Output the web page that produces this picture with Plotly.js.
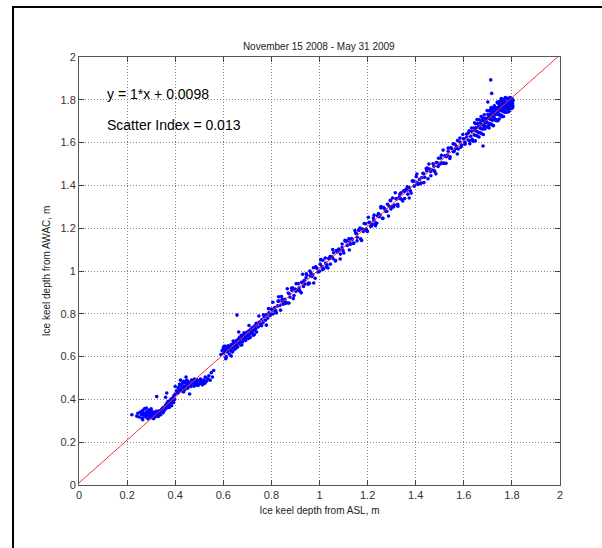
<!DOCTYPE html>
<html>
<head>
<meta charset="utf-8">
<script src="https://cdn.plot.ly/plotly-3.0.1.min.js"></script>
<style>
html,body{margin:0;padding:0;background:#fff;overflow:hidden;}
#chart{width:602px;height:548px;}
#frame{position:absolute;left:12px;top:6px;width:800px;height:800px;border-left:2px solid #000;border-top:2px solid #000;pointer-events:none;}
</style>
</head>
<body>
<div id="chart"></div>
<div id="frame"></div>
<script>
// Ice keel depth from ASL (x, m) and from AWAC (y, m)
var aslLow = [0.22,0.24,0.245,0.25,0.255,0.26,0.262,0.265,0.268,0.27,0.272,0.275,0.278,0.28,0.282,0.285,0.287,0.29,0.292,0.295,0.297,0.30,0.302,0.305,0.307,0.31,0.312,0.315,0.317,0.32,0.322,0.325,0.327,0.33,0.332,0.335,0.338,0.34,0.343,0.323,0.28,0.265,0.30,0.31,0.35,
0.345,0.35,0.355,0.36,0.362,0.365,0.368,0.37,0.372,0.375,0.378,0.38,0.383,0.385,0.388,0.39,0.393,0.395,0.398,0.365,0.40,0.36,
0.40,0.405,0.41,0.412,0.415,0.418,0.42,0.422,0.425,0.428,0.43,0.432,0.435,0.438,0.44,0.442,0.445,0.448,0.45,0.452,0.455,0.458,0.46,0.462,0.465,0.468,0.47,0.475,0.478,0.48,0.483,0.485,0.488,0.49,0.493,0.495,0.498,0.50,0.503,0.505,0.508,0.51,0.513,0.515,0.52,0.523,0.525,0.53,0.535,0.54,0.545,0.55,0.555,0.56,0.445,0.435];
var awacLow = [0.328,0.322,0.335,0.318,0.341,0.329,0.312,0.348,0.335,0.322,0.356,0.330,0.318,0.342,0.327,0.335,0.309,0.350,0.322,0.338,0.328,0.315,0.345,0.332,0.321,0.340,0.328,0.335,0.318,0.344,0.331,0.326,0.338,0.320,0.347,0.333,0.342,0.328,0.352,0.413,0.36,0.305,0.356,0.31,0.338,
0.355,0.362,0.348,0.372,0.358,0.381,0.366,0.39,0.375,0.362,0.395,0.382,0.402,0.37,0.392,0.408,0.385,0.418,0.40,0.43,0.46,0.41,
0.425,0.44,0.43,0.455,0.438,0.47,0.448,0.49,0.462,0.44,0.475,0.455,0.485,0.462,0.445,0.478,0.46,0.49,0.47,0.452,0.482,0.465,0.425,0.474,0.46,0.49,0.472,0.48,0.462,0.495,0.475,0.485,0.468,0.492,0.478,0.465,0.487,0.472,0.482,0.495,0.475,0.488,0.468,0.48,0.492,0.475,0.505,0.485,0.498,0.51,0.49,0.525,0.505,0.535,0.505,0.435];

var aslMid = [0.59,0.595,0.60,0.602,0.605,0.608,0.61,0.612,0.615,0.618,0.62,0.622,0.625,0.628,0.63,0.632,0.635,0.638,0.64,0.642,0.645,0.648,0.65,0.652,0.655,0.658,0.66,0.663,0.665,0.668,0.67,0.672,0.675,0.678,0.68,0.683,0.685,0.688,0.69,0.693,0.695,0.698,0.70,0.702,0.705,0.708,0.71,0.712,0.715,0.718,0.72,0.722,0.725,0.728,0.73,0.733,0.735,0.738,0.74,0.745,0.75,0.755,0.76,0.765,0.77,0.775,0.78,0.785,0.79,0.795,0.657,0.61,
0.800,0.807,0.814,0.821,0.828,0.835,0.842,0.849,0.856,0.863,0.870,0.877,0.884,0.891,0.898,0.905,0.912,0.919,0.926,0.933,
0.940,0.947,0.954,0.961,0.968,0.975,0.982,0.989,0.996,1.003,1.010,1.017,1.024,1.031,1.038,1.045,1.052,1.059,1.066,1.073,
0.804,0.818,0.832,0.846,0.860,0.874,0.888,0.902,0.916,0.930,0.944,0.958,0.972,0.986,1.000,1.014,1.028,1.042,1.056,1.070,
0.83,0.93,0.96];
var awacMid = [0.61,0.628,0.64,0.615,0.632,0.648,0.625,0.60,0.638,0.622,0.65,0.635,0.612,0.642,0.628,0.655,0.64,0.622,0.66,0.645,0.632,0.668,0.652,0.638,0.675,0.66,0.645,0.682,0.665,0.69,0.672,0.655,0.70,0.685,0.668,0.695,0.68,0.705,0.69,0.675,0.71,0.695,0.715,0.70,0.685,0.722,0.705,0.69,0.728,0.712,0.735,0.718,0.70,0.74,0.725,0.745,0.73,0.715,0.752,0.738,0.762,0.75,0.772,0.758,0.785,0.77,0.795,0.78,0.805,0.792,0.794,0.59,
0.822,0.799,0.829,0.804,0.859,0.839,0.881,0.845,0.868,0.851,0.897,0.878,0.919,0.871,0.916,0.912,0.941,0.905,0.947,0.928,
0.939,0.981,0.944,0.978,0.974,1.015,0.966,1.013,0.998,1.032,1.021,1.010,1.061,1.028,1.058,1.032,1.066,1.085,1.047,1.092,
0.817,0.815,0.860,0.855,0.849,0.894,0.921,0.905,0.910,0.946,0.968,0.943,0.982,1.016,0.999,1.050,1.019,1.057,1.058,1.095,
0.88,0.985,1.0];

var aslHigh = [1.080,1.087,1.094,1.101,1.108,1.115,1.122,1.129,1.136,1.143,1.150,1.157,1.164,1.171,1.178,1.185,1.192,1.199,1.206,1.213,
1.220,1.227,1.234,1.241,1.248,1.255,1.262,1.269,1.276,1.283,1.290,1.297,1.304,1.311,1.318,1.325,1.332,1.339,1.346,1.353,
1.360,1.367,1.374,1.381,1.388,1.395,1.402,1.409,1.416,1.423,1.430,1.437,1.444,1.451,1.458,1.465,1.472,1.479,1.486,1.493,
1.500,1.507,1.514,1.521,1.528,1.535,1.542,1.549,1.556,1.563,1.570,1.577,1.584,1.591,1.598,1.605,1.612,1.619,1.626,1.633,
1.084,1.098,1.112,1.126,1.140,1.154,1.168,1.182,1.196,1.210,1.224,1.238,1.252,1.266,1.280,1.294,1.308,1.322,1.336,1.350,
1.364,1.378,1.392,1.406,1.420,1.434,1.448,1.462,1.476,1.490,1.504,1.518,1.532,1.546,1.560,1.574,1.588,1.602];
var awacHigh = [1.102,1.079,1.109,1.084,1.139,1.119,1.150,1.125,1.148,1.131,1.177,1.158,1.190,1.151,1.196,1.192,1.221,1.185,1.227,1.208,
1.219,1.261,1.224,1.258,1.254,1.295,1.246,1.293,1.278,1.312,1.301,1.290,1.341,1.308,1.338,1.312,1.346,1.365,1.327,1.372,
1.382,1.359,1.389,1.364,1.419,1.399,1.441,1.405,1.428,1.411,1.457,1.438,1.479,1.431,1.476,1.472,1.501,1.465,1.507,1.488,
1.499,1.541,1.504,1.538,1.534,1.575,1.526,1.573,1.558,1.592,1.581,1.570,1.621,1.588,1.618,1.592,1.626,1.645,1.607,1.652,
1.097,1.095,1.140,1.135,1.129,1.174,1.201,1.185,1.190,1.226,1.248,1.223,1.262,1.296,1.279,1.330,1.299,1.337,1.338,1.375,
1.377,1.375,1.420,1.415,1.409,1.454,1.481,1.465,1.470,1.506,1.528,1.503,1.542,1.576,1.559,1.610,1.579,1.617];

// extra, more widely scattered readings along the band
var aslBand = [0.603,0.611,0.624,0.633,0.641,0.656,0.664,0.677,0.686,0.694,0.707,0.716,0.729,0.737,0.748,0.759,0.767,0.779,0.788,0.797,0.806,0.817,0.826,0.838,0.845,
0.857,0.866,0.873,0.885,0.894,0.903,0.915,0.924,0.936,0.945,0.953,0.964,0.976,0.984,0.993,1.005,1.013,1.026,1.035,1.044,1.055,1.067,1.075,1.086,1.094,
1.106,1.115,1.124,1.133,1.147,1.156,1.163,1.175,1.186,1.194,1.203,1.217,1.226,1.233,1.245,1.256,1.264,1.273,1.287,1.296,1.303,1.315,1.326,1.334,1.343,
1.354,1.365,1.373,1.386,1.394,1.405,1.413,1.426,1.434,1.446,1.455,1.463,1.476,1.484,1.495,1.506,1.514,1.526,1.535,1.543,1.556,1.565,1.573,1.584,1.596];
var awacBand = [0.648,0.593,0.638,0.603,0.673,0.654,0.715,0.654,0.711,0.685,0.745,0.722,0.703,0.756,0.790,0.744,0.795,0.747,0.824,0.799,0.854,0.811,0.837,0.817,0.868,
0.855,0.917,0.850,0.910,0.885,0.941,0.921,0.898,0.955,0.987,0.938,0.992,0.944,1.020,0.995,1.053,1.007,1.037,1.014,1.067,1.100,1.049,1.089,1.056,1.126,
1.144,1.121,1.098,1.152,1.189,1.141,1.191,1.143,1.222,1.196,1.251,1.211,1.237,1.212,1.268,1.301,1.246,1.287,1.257,1.328,1.301,1.366,1.303,1.359,1.334,
1.339,1.393,1.341,1.422,1.396,1.453,1.407,1.437,1.413,1.469,1.500,1.445,1.490,1.454,1.527,1.504,1.565,1.503,1.560,1.534,1.594,1.571,1.547,1.603,1.638];

var aslTop = [1.605,1.612,1.618,1.622,1.628,1.632,1.625,1.635,
1.640,1.642,1.643,1.645,1.646,1.648,1.649,1.651,1.652,1.654,1.655,1.657,1.658,1.660,1.661,1.663,1.664,1.666,1.667,1.669,1.670,1.672,1.673,1.675,1.676,1.678,1.679,1.681,1.682,1.684,1.685,1.687,1.688,1.690,1.691,
1.693,1.694,1.696,1.697,1.699,1.700,1.702,1.703,1.705,1.706,1.708,1.709,1.711,1.712,1.714,1.715,1.717,1.718,1.720,1.721,1.723,1.724,1.726,1.727,1.729,1.730,1.732,1.733,1.735,1.736,1.738,1.739,1.741,1.742,1.744,
1.745,1.747,1.748,1.750,1.751,1.753,1.754,1.756,1.757,1.759,1.760,1.762,1.763,1.765,1.766,1.768,1.769,1.771,1.772,1.774,1.775,1.777,1.778,1.780,1.781,1.783,1.784,1.786,1.787,1.789,1.790,1.792,1.793,1.795,1.796,1.798,1.799,1.801,1.802,1.804,1.805,
1.701,1.704,1.707,1.710,1.713,1.716,1.719,1.722,1.725,1.728,1.731,1.734,1.737,1.740,1.743,1.746,1.749,1.752,1.755,1.758,1.761,1.764,1.767,1.770,1.773,1.776,1.779,1.782,1.785,1.788,1.791,1.794,1.797,1.800,1.803,
1.712,1.716,1.680,1.700];
var awacTop = [1.600,1.640,1.612,1.655,1.630,1.668,1.595,1.615,
1.607,1.668,1.636,1.693,1.656,1.608,1.688,1.633,1.669,1.653,1.708,1.631,1.690,1.648,1.675,1.626,1.707,1.670,1.646,1.691,1.666,1.722,1.643,1.703,1.683,1.663,1.715,1.638,1.701,1.675,1.730,1.689,1.664,1.714,1.703,
1.675,1.711,1.695,1.750,1.673,1.732,1.690,1.717,1.668,1.749,1.712,1.688,1.733,1.708,1.764,1.685,1.745,1.725,1.705,1.757,1.680,1.743,1.717,1.772,1.731,1.706,1.756,1.745,1.702,1.762,1.731,1.787,1.751,1.702,1.783,
1.759,1.710,1.791,1.754,1.730,1.775,1.750,1.806,1.727,1.786,1.765,1.746,1.794,1.722,1.779,1.755,1.803,1.766,1.745,1.786,1.777,1.742,1.789,1.764,1.807,1.779,1.743,1.801,1.761,1.786,1.774,1.811,1.760,1.798,1.771,1.788,1.759,1.805,1.784,1.772,1.795,
1.713,1.728,1.683,1.712,1.758,1.707,1.738,1.679,1.761,1.713,1.738,1.762,1.707,1.790,1.739,1.768,1.728,1.756,1.798,1.721,1.773,1.750,1.791,1.742,1.810,1.767,1.782,1.757,1.800,1.747,1.782,1.808,1.775,1.795,1.764,
1.893,1.830,1.584,1.790];

// Linear fit: y = 1*x + 0.0098
var fitX = [0, 2];
var fitY = [0.0098, 2.0098];

var tickVals = [0, 0.2, 0.4, 0.6, 0.8, 1, 1.2, 1.4, 1.6, 1.8, 2];
var tickText = ["0","0.2","0.4","0.6","0.8","1","1.2","1.4","1.6","1.8","2"];

var titleText = "November 15 2008 - May 31 2009";
var xTitle = "Ice keel depth from ASL, m";
var yTitle = "Ice keel depth from AWAC, m";
var eqText = "y = 1*x + 0.0098";
var siText = "Scatter Index = 0.013";

var xs = aslLow.concat(aslMid, aslBand, aslHigh, aslTop);
var ys = awacLow.concat(awacMid, awacBand, awacHigh, awacTop);

var FONT = "Liberation Sans, Arial, Helvetica, sans-serif";

var traces = [
  {x: xs, y: ys, type: 'scatter', mode: 'markers',
   marker: {color: '#0000ff', size: 3.6, line: {width: 0}}, hoverinfo: 'skip'},
  {x: fitX, y: fitY, type: 'scatter', mode: 'lines',
   line: {color: '#ff3030', width: 1}, hoverinfo: 'skip'}
];

function axis(titleTxt, standoff) {
  return {
    range: [0, 2], tickvals: tickVals, ticktext: tickText,
    ticks: 'inside', ticklen: 5, tickwidth: 1, tickcolor: '#444',
    showline: true, linecolor: '#555', linewidth: 1, mirror: 'ticks',
    showgrid: true, gridcolor: '#888', griddash: '1px,2px', gridwidth: 1,
    zeroline: false, tickfont: {family: FONT, size: 11, color: '#333'},
    title: {text: titleTxt, standoff: standoff, font: {family: FONT, size: 10, color: '#222'}},
    fixedrange: true
  };
}

var layout = {
  width: 602, height: 548,
  margin: {l: 79, r: 42, t: 57, b: 63},
  paper_bgcolor: 'rgba(0,0,0,0)', plot_bgcolor: '#fff',
  showlegend: false,
  font: {family: FONT, color: '#222'},
  title: {text: titleText, font: {family: FONT, size: 10, color: '#222'},
          x: 0.5295, xanchor: 'center', y: 1 - 46/548, yanchor: 'middle'},
  xaxis: axis(xTitle, 6),
  yaxis: axis(yTitle, 8),
  annotations: [
    {x: 0.108, y: 1.827, xref: 'x', yref: 'y', text: eqText, showarrow: false,
     xanchor: 'left', yanchor: 'middle', font: {family: FONT, size: 14, color: '#000'}},
    {x: 0.108, y: 1.68, xref: 'x', yref: 'y', text: siText, showarrow: false,
     xanchor: 'left', yanchor: 'middle', font: {family: FONT, size: 14, color: '#000'}}
  ]
};

Plotly.newPlot('chart', traces, layout, {displayModeBar: false, staticPlot: true});
</script>
</body>
</html>
